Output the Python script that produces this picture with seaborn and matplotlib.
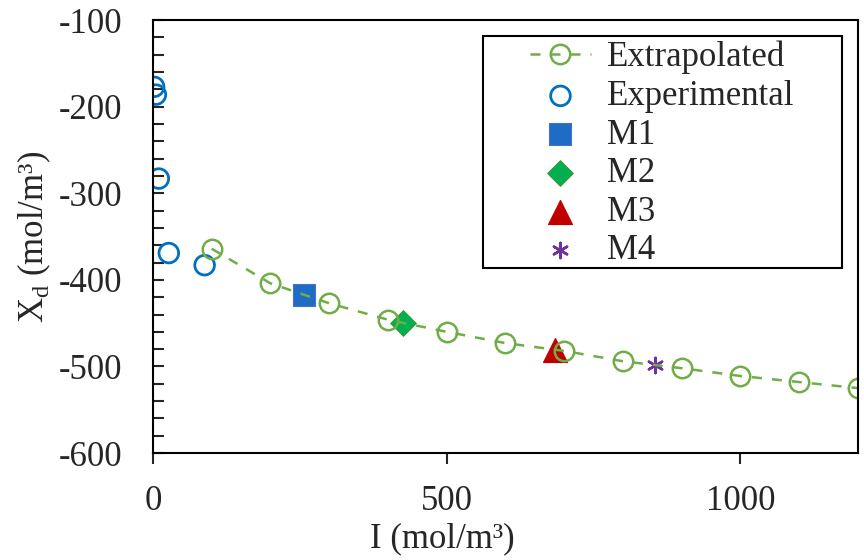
import matplotlib
matplotlib.use("Agg")
import matplotlib.pyplot as plt
import seaborn as sns
import pandas as pd
from matplotlib.ticker import MultipleLocator
from matplotlib.patches import Rectangle

# Data
extrap_x = [100, 200, 300, 400, 500, 600, 700, 800, 900, 1000, 1100, 1200]
extrap_y = [-364, -404, -427, -446, -460, -473, -482, -494, -502, -511, -518, -525]
exp_x = [2, 5, 10, 27, 88]
exp_y = [-177, -186, -283, -369, -383]
m1_x, m1_y = [257], [-418]
m2_x, m2_y = [425], [-450]
m3_x, m3_y = [685], [-481]
m4_x, m4_y = [854], [-498]

sns.set_theme(style="white")
plt.rcParams['font.family'] = ['Liberation Serif', 'DejaVu Serif']
plt.rcParams['mathtext.fontset'] = 'custom'
plt.rcParams['mathtext.rm'] = 'Liberation Serif'
plt.rcParams['axes.unicode_minus'] = False

fig = plt.figure(figsize=(8.64, 5.6), dpi=100)
ax = fig.add_axes([0.177, 0.191, 0.816, 0.773])

green = '#70AD47'
blue = '#0070C0'

df_e = pd.DataFrame({'x': extrap_x, 'y': extrap_y})
sns.lineplot(data=df_e, x='x', y='y', ax=ax, color=green, linestyle=(0, (4, 4)),
             linewidth=1.8, marker='o', markersize=14, markerfacecolor='none',
             markeredgecolor=green, markeredgewidth=1.8, label='Extrapolated')
df_x = pd.DataFrame({'x': exp_x, 'y': exp_y})
sns.scatterplot(data=df_x, x='x', y='y', ax=ax, marker='o', s=200,
                facecolors='none', edgecolor=blue, linewidth=2.0, label='Experimental')
sns.scatterplot(x=m1_x, y=m1_y, ax=ax, marker='s', s=260, color='#1F6CC4',
                edgecolor='#4472C4', linewidth=0.8, label='M1')
sns.scatterplot(x=m2_x, y=m2_y, ax=ax, marker='D', s=170, color='#00B050',
                edgecolor='#3A9A3A', linewidth=0.8, label='M2')
sns.scatterplot(x=m3_x, y=m3_y, ax=ax, marker='^', s=300, color='#C00000',
                edgecolor='#C00000', linewidth=0.8, label='M3')
sns.scatterplot(x=m4_x, y=m4_y, ax=ax, marker=(6, 2, 0), s=120, color='#7030A0',
                linewidth=1.8, label='M4')

ax.set_xlim(0, 1200)
ax.set_ylim(-600, -100)
ax.set_xticks([0, 500, 1000])
ax.set_yticks([-600, -500, -400, -300, -200, -100])
ax.yaxis.set_minor_locator(MultipleLocator(20))
ax.tick_params(axis='y', which='both', direction='in', length=8, width=1.5,
               labelsize=25, left=True, pad=22)
ax.tick_params(axis='x', which='major', direction='out', length=8, width=1.5,
               labelsize=25, bottom=True, pad=15)
for s in ax.spines.values():
    s.set_color('black')
    s.set_linewidth(1.5)

ax.set_xlabel('I (mol/m³)', fontsize=25)
ax.xaxis.set_label_coords(0.41, -0.16)
ax.set_ylabel('X$_\\mathregular{d}$ (mol/m³)', fontsize=25, labelpad=4)

leg = ax.legend(loc='upper left', bbox_to_anchor=(0.535, 0.952), fontsize=25,
                frameon=False, handlelength=1.75, handletextpad=0.45,
                labelspacing=0.16, borderpad=0.0, borderaxespad=0)
ax.add_patch(Rectangle((0.468, 0.427), 0.977 - 0.468, 0.963 - 0.427,
                       transform=ax.transAxes, fill=False, edgecolor='black',
                       linewidth=1.5, zorder=5))

fig.savefig('out.png', dpi=100)
